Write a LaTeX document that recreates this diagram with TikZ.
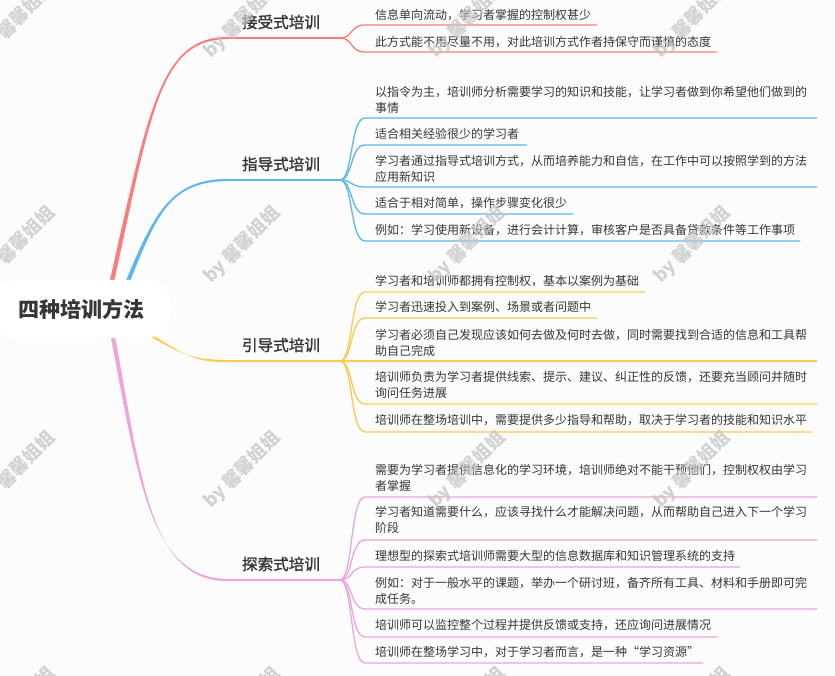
\documentclass[tikz,border=0pt]{standalone}
\usepackage{fontspec}
\setmainfont{Noto Sans CJK SC}
\newfontfamily\medfont[FakeBold=1.4]{Noto Sans CJK SC}
\definecolor{bg}{HTML}{FCFCFC}
\definecolor{txt}{HTML}{363636}
\definecolor{cR}{HTML}{FF7B7B}
\definecolor{cB}{HTML}{5DB6EE}
\definecolor{cY}{HTML}{FFC850}
\definecolor{cP}{HTML}{F0A4DC}
\definecolor{wmc}{HTML}{C4C4C4}
\newcommand\leaf[7]{%
  \coordinate (#1s) at (365,#4);
  \coordinate (#1e) at (#5,#4);
  \draw[leafline,#2] (#3) .. controls +(13,0) and +(-15,0) .. (#1s) -- (#1e);
  \node[leaftext] (#1) at (375,#6) {#7};
}
\newcommand\mainbranch[6]{% color, S, C1, C2, E, B
  \fill[#1] ([xshift=-2.2pt]#2) .. controls ([xshift=-1.6pt]#3) and ([yshift=1.2pt]#4) .. ([yshift=1.1pt]#5)
     -- ([yshift=-1.1pt]#5) .. controls ([yshift=-1.2pt]#4) and ([xshift=1.6pt]#3) .. ([xshift=2.2pt]#2) -- cycle;
  \draw[#1, line width=2pt] (#5) -- (#6);
}
\begin{document}
\begin{tikzpicture}[x=1pt,y=-1pt,
  leafline/.style={line width=1.3pt},
  leaftext/.style={anchor=west, inner sep=0pt, align=left, text=txt, font=\fontsize{12}{16}\selectfont},
  blabel/.style={inner sep=0pt, text=txt, font=\medfont\fontsize{15.6}{18}\selectfont},
  rootbox/.style={fill=white, rounded corners=24pt, minimum width=176pt, minimum height=58pt, inner sep=0pt,
    text=txt, font=\bfseries\fontsize{21}{24}\selectfont},
  wm/.style={rotate=45, inner sep=0pt, text=wmc, text opacity=0.75, font=\bfseries\fontsize{18}{18}\selectfont}]
\useasboundingbox (0,0) rectangle (835,676);
\fill[bg] (0,0) rectangle (835,676);

% branch geometry
\coordinate (RS) at (112,281); \coordinate (RC1) at (150,110); \coordinate (RC2) at (160,38);  \coordinate (RE) at (228,38);  \coordinate (R) at (340,38);
\coordinate (BS) at (128,281); \coordinate (BC1) at (155,215); \coordinate (BC2) at (170,180); \coordinate (BE) at (228,180); \coordinate (B) at (340,180);
\coordinate (YS) at (152,336); \coordinate (YC1) at (185,356); \coordinate (YC2) at (195,361); \coordinate (YE) at (228,361); \coordinate (Y) at (340,361);
\coordinate (PS) at (113,337); \coordinate (PC1) at (140,480); \coordinate (PC2) at (150,580); \coordinate (PE) at (228,580); \coordinate (P) at (340,580);

\mainbranch{cR}{RS}{RC1}{RC2}{RE}{R}
\mainbranch{cB}{BS}{BC1}{BC2}{BE}{B}
\mainbranch{cY}{YS}{YC1}{YC2}{YE}{Y}
\mainbranch{cP}{PS}{PC1}{PC2}{PE}{P}

\node[rootbox] (root) at (82,309) {四种培训方法};

\node[blabel] (lR) at (281,22) {接受式培训};
\node[blabel] (lB) at (281,164) {指导式培训};
\node[blabel] (lY) at (281,345) {引导式培训};
\node[blabel] (lP) at (281,564) {探索式培训};

% receive
\leaf{r1}{cR}{R}{25}{597}{15}{信息单向流动，学习者掌握的控制权甚少}
\leaf{r2}{cR}{R}{52}{717}{42}{此方式能不用尽量不用，对此培训方式作者持保守而谨慎的态度}
% guide
\leaf{b1}{cB}{B}{118}{817}{100}{以指令为主，培训师分析需要学习的知识和技能，让学习者做到你希望他们做到的\\事情}
\leaf{b2}{cB}{B}{145}{527}{134}{适合相关经验很少的学习者}
\leaf{b3}{cB}{B}{187}{817}{169}{学习者通过指导式培训方式，从而培养能力和自信，在工作中可以按照学到的方法\\应用新知识}
\leaf{b4}{cB}{B}{214}{573}{203}{适合于相对简单，操作步骤变化很少}
\leaf{b5}{cB}{B}{241}{800}{230}{例如：学习使用新设备，进行会计计算，审核客户是否具备贷款条件等工作事项}
% lead
\leaf{y1}{cY}{Y}{292}{645}{281}{学习者和培训师都拥有控制权，基本以案例为基础}
\leaf{y2}{cY}{Y}{318}{597}{307}{学习者迅速投入到案例、场景或者问题中}
\leaf{y3}{cY}{Y}{361}{817}{343}{学习者必须自己发现应该如何去做及何时去做，同时需要找到合适的信息和工具帮\\助自己完成}
\leaf{y4}{cY}{Y}{404}{817}{385}{培训师负责为学习者提供线索、提示、建议、纠正性的反馈，还要充当顾问并随时\\询问任务进展}
\leaf{y5}{cY}{Y}{432}{812}{420}{培训师在整场培训中，需要提供多少指导和帮助，取决于学习者的技能和知识水平}
% explore
\leaf{p1}{cP}{P}{497}{817}{478}{需要为学习者提供信息化的学习环境，培训师绝对不能干预他们，控制权权由学习\\者掌握}
\leaf{p2}{cP}{P}{540}{817}{520}{学习者知道需要什么，应该寻找什么才能解决问题，从而帮助自己进入下一个学习\\阶段}
\leaf{p3}{cP}{P}{567}{740}{556}{理想型的探索式培训师需要大型的信息数据库和知识管理系统的支持}
\leaf{p4}{cP}{P}{609}{817}{591}{例如：对于一般水平的课题，举办一个研讨班，备齐所有工具、材料和手册即可完\\成任务。}
\leaf{p5}{cP}{P}{637}{717}{625}{培训师可以监控整个过程并提供反馈或支持，还应询问进展情况}
\leaf{p6}{cP}{P}{663}{703}{652}{培训师在整场学习中，对于学习者而言，是一种“学习资源”}

% watermarks
\foreach \wx in {17,242,467,692}{
  \foreach \wy in {20,245,470,706}{
    \node[wm] at (\wx,\wy) {by 馨馨姐姐};
  }
}
\end{tikzpicture}
\end{document}
